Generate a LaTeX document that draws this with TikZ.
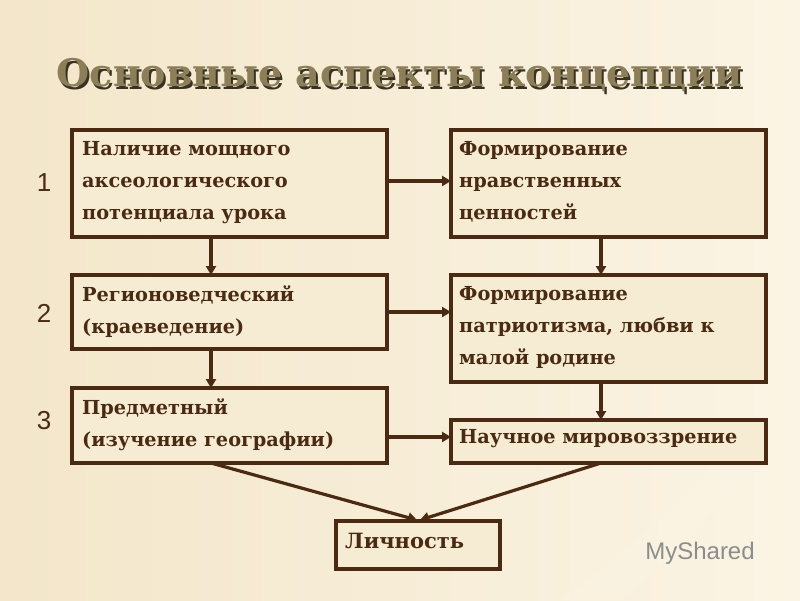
\documentclass[tikz,border=0pt]{standalone}
\usepackage{fontspec}
\setmainfont{DejaVu Serif}
\newfontfamily\numfont{Liberation Sans}
\usetikzlibrary{arrows.meta}
\definecolor{bg}{HTML}{F3E6CA}
\definecolor{bgl}{HTML}{FBF4E4}
\definecolor{brd}{HTML}{4A2A12}
\definecolor{ttl}{HTML}{8C7E58}
\tikzset{
 box/.style={draw=brd,line width=3.2pt,fill=bg!60!bgl},
 txt/.style={anchor=north west,align=left,text=brd,inner sep=0pt,font=\bfseries\fontsize{19.3}{32}\selectfont},
 arr/.style={draw=brd,line width=3.2pt,-{Triangle[width=10pt,length=9pt]}},
 num/.style={text=brd,font=\numfont\fontsize{26}{26}\selectfont}
}
\begin{document}
\begin{tikzpicture}[x=1pt,y=-1pt]
\shade[left color=bg,right color=bgl] (0,0) rectangle (800,600);
\useasboundingbox (0,0) rectangle (800,600);
\fill[bgl,opacity=0.5] (560,600) .. controls (700,500) and (760,400) .. (800,380) -- (800,420) .. controls (760,450) and (700,540) .. (620,600) -- cycle;
\node[text=black!60!ttl,font=\bfseries\fontsize{38}{38}\selectfont] at (402,78) {Основные аспекты концепции};
\node (title) [text=ttl,font=\bfseries\fontsize{38}{38}\selectfont] at (400,75) {Основные аспекты концепции};
\path[box] (72,130) rectangle (387,237);
\path[box] (451,130) rectangle (766,237);
\path[box] (72,275) rectangle (387,349);
\path[box] (451,275) rectangle (766,382);
\path[box] (72,388) rectangle (387,463);
\path[box] (451,420) rectangle (766,463);
\path[box] (336,521) rectangle (500,569);
\coordinate (Ar) at (387,181); \coordinate (Bl) at (451,181);
\coordinate (Cr) at (387,312); \coordinate (Dl) at (451,312);
\coordinate (Er) at (387,437); \coordinate (Fl) at (451,437);
\coordinate (Ab) at (211,237); \coordinate (Ct) at (211,275);
\coordinate (Cb) at (211,349); \coordinate (Et) at (211,388);
\coordinate (Bb) at (601,237); \coordinate (Dt) at (601,275);
\coordinate (Db) at (601,382); \coordinate (Ft) at (601,420);
\coordinate (Eb) at (211,463); \coordinate (Fb) at (601,463);
\coordinate (G1) at (417,520); \coordinate (G2) at (420,520);
\node (ta) [txt] at (82,141) {Наличие мощного\\аксеологического\\потенциала урока};
\node (tb) [txt] at (459,141) {Формирование\\нравственных\\ценностей};
\node (tc) [txt] at (82,286) {Регионоведческий\\(краеведение)};
\node (td) [txt] at (459,286) {Формирование\\патриотизма, любви к\\малой родине};
\node (te) [txt] at (82,399) {Предметный\\(изучение географии)};
\node (tf) [txt] at (459,429) {Научное мировоззрение};
\node (tg) [txt,font=\bfseries\fontsize{21}{30}\selectfont] at (345,533) {Личность};
\node (n1) [num] at (44,183) {1};
\node (n2) [num] at (44,313) {2};
\node (n3) [num] at (44,421) {3};
\draw[arr] (Ar) -- (Bl);
\draw[arr] (Cr) -- (Dl);
\draw[arr] (Er) -- (Fl);
\draw[arr] (Ab) -- (Ct);
\draw[arr] (Cb) -- (Et);
\draw[arr] (Bb) -- (Dt);
\draw[arr] (Db) -- (Ft);
\draw[arr] (Eb) -- (G1);
\draw[arr] (Fb) -- (G2);
\node (logo) [text=black!45,font=\numfont\fontsize{24}{24}\selectfont] at (700,553) {MyShared};
\end{tikzpicture}
\end{document}
